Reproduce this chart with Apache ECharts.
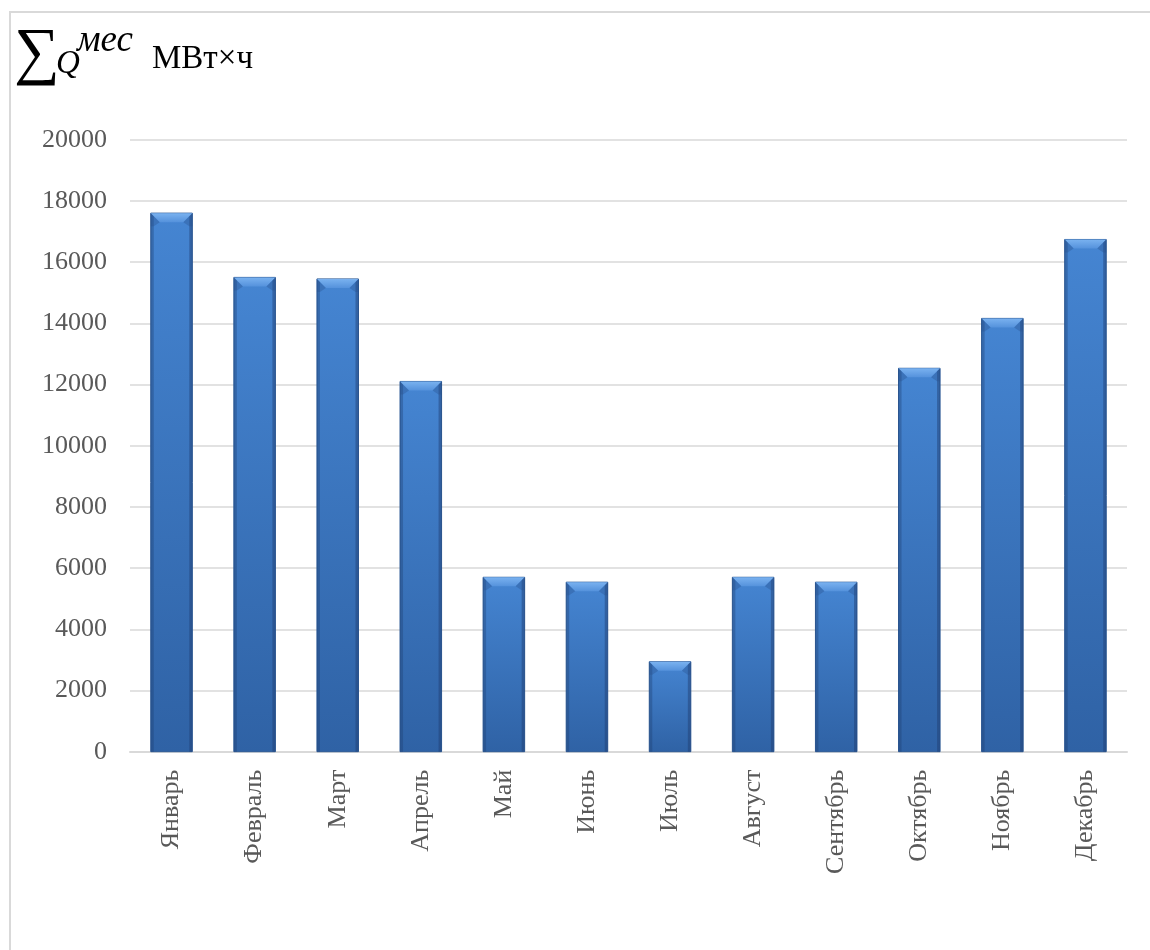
<!DOCTYPE html>
<html><head><meta charset="utf-8">
<script src="https://cdn.jsdelivr.net/npm/echarts@6/dist/echarts.min.js"></script>
<style>html,body{margin:0;padding:0;background:#fff}#c{width:1150px;height:950px}</style>
</head><body><div id="c"></div>
<script>
const categories = ['Январь','Февраль','Март','Апрель','Май','Июнь','Июль','Август','Сентябрь','Октябрь','Ноябрь','Декабрь'];
const values = [17600, 15500, 15450, 12100, 5700, 5540, 2940, 5700, 5540, 12530, 14160, 16740];
const yTicks = {min: 0, max: 20000, interval: 2000};

const chart = echarts.init(document.getElementById('c'));
const serif = '"Liberation Serif","Times New Roman",serif';

function renderItem(params, api) {
  const x = api.value(0), v = api.value(1);
  const top = api.coord([x, v]);
  const base = api.coord([x, 0]);
  const bw = api.size([1, 0])[0] * 0.5;
  const x0 = top[0] - bw / 2, x1 = top[0] + bw / 2;
  const y0 = top[1], y1 = base[1];
  const h = y1 - y0;
  const b = Math.min(9, h / 2);
  const s = 3;
  return {
    type: 'group',
    children: [
      {type: 'rect', shape: {x: x0, y: y0, width: bw, height: h},
        style: {fill: new echarts.graphic.LinearGradient(0, 0, 0, 1, [
          {offset: 0, color: '#4585d2'}, {offset: 1, color: '#2f62a5'}]),
          stroke: '#2d5a96', lineWidth: 1}},
      {type: 'rect', shape: {x: x0, y: y0, width: s, height: h},
        style: {fill: 'rgba(30,60,110,0.35)'}},
      {type: 'rect', shape: {x: x1 - s, y: y0, width: s, height: h},
        style: {fill: 'rgba(30,60,110,0.45)'}},
      {type: 'polygon', shape: {points: [[x0, y0], [x1, y0], [x1 - b, y0 + b], [x0 + b, y0 + b]]},
        style: {fill: new echarts.graphic.LinearGradient(0, 0, 0, 1, [
          {offset: 0, color: '#7ab2f0'}, {offset: 1, color: '#5592dc'}])}},
      {type: 'polygon', shape: {points: [[x0, y0], [x0 + b, y0 + b], [x0 + s, y0 + b + 4], [x0, y0 + b + 4]]},
        style: {fill: 'rgba(40,80,140,0.35)'}},
      {type: 'polygon', shape: {points: [[x1, y0], [x1 - b, y0 + b], [x1 - s, y0 + b + 4], [x1, y0 + b + 4]]},
        style: {fill: 'rgba(40,80,140,0.35)'}}
    ]
  };
}

chart.setOption({
  animation: false,
  backgroundColor: '#fff',
  grid: {left: 130, right: 23, top: 139.7, bottom: 198.3, containLabel: false},
  graphic: [
    {type: 'rect', shape: {x: 10, y: 12, width: 1300, height: 1100},
      style: {fill: 'none', stroke: '#d9d9d9', lineWidth: 2}, silent: true},
    {type: 'text', left: 14, top: 23, style: {text: '∑', font: '64px ' + serif, fill: '#000'}},
    {type: 'text', left: 56, top: 48, style: {text: 'Q', font: 'italic 33px ' + serif, fill: '#000'}},
    {type: 'text', left: 77, top: 23, style: {text: 'мес', font: 'italic 37px ' + serif, fill: '#000'}},
    {type: 'text', left: 152, top: 43, style: {text: 'МВт×ч', font: '33px ' + serif, fill: '#000'}}
  ],
  xAxis: {
    type: 'category', data: categories,
    axisLine: {lineStyle: {color: '#d9d9d9', width: 2}},
    axisTick: {show: false},
    axisLabel: {rotate: 90, margin: 18, color: '#595959', fontFamily: serif, fontSize: 26, interval: 0}
  },
  yAxis: {
    type: 'value', min: yTicks.min, max: yTicks.max, interval: yTicks.interval,
    axisLine: {show: false}, axisTick: {show: false},
    axisLabel: {margin: 23, color: '#595959', fontFamily: serif, fontSize: 26, formatter: v => String(v)},
    splitLine: {lineStyle: {color: '#d9d9d9', width: 1.5}}
  },
  series: [{
    type: 'custom',
    renderItem: renderItem,
    encode: {x: 0, y: 1},
    data: values.map((v, i) => [i, v]),
    z: 3
  }]
});
</script></body></html>
